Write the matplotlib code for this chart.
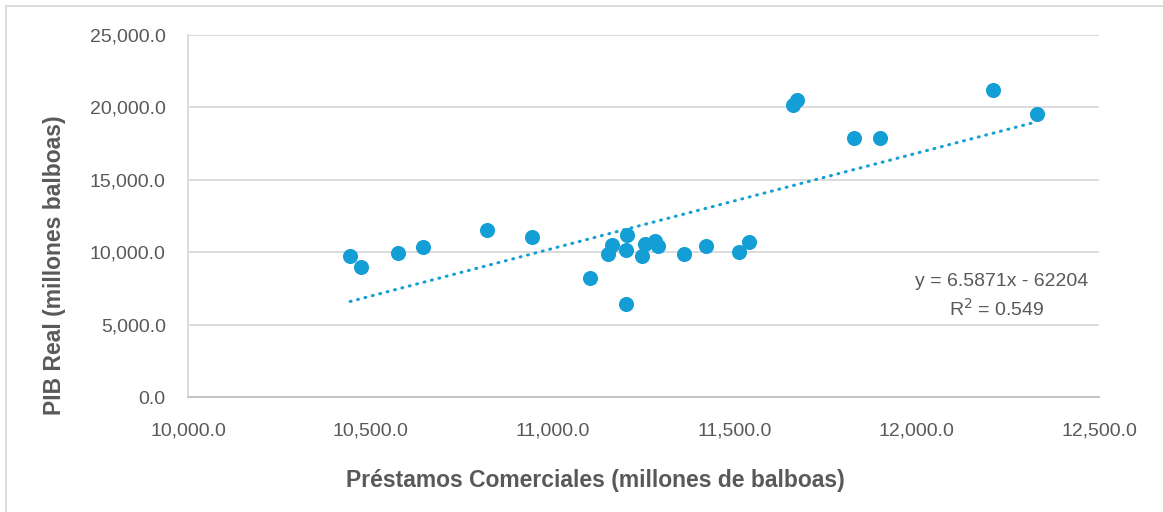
import matplotlib.pyplot as plt
import matplotlib.patches as mpatches
from matplotlib.ticker import FuncFormatter
import numpy as np

# Préstamos comerciales vs PIB real (millones de balboas)
prestamos = [10445, 10475, 10576, 10645, 10821, 10944, 11103, 11163, 11153,
             11206, 11203, 11201, 11245, 11254, 11282, 11289, 11361, 11422,
             11512, 11540, 11661, 11670, 11828, 11899, 12208, 12330]
pib = [9758, 9000, 9945, 10338, 11554, 11071, 8198, 10477, 9855,
       11188, 10173, 6423, 9738, 10566, 10773, 10428, 9897, 10428,
       9993, 10704, 20166, 20511, 17907, 17907, 21181, 19544]

# linear trend reported by the chart
slope = 6.5871
intercept = -62204
r2 = 0.549

BLUE = "#139fd5"
GRAY = "#595959"
GRID = "#d9d9d9"
W, H = 1163, 512

plt.rcParams["font.family"] = ["Liberation Sans", "DejaVu Sans"]

fig = plt.figure(figsize=(W / 100, H / 100), dpi=100)
ax = fig.add_axes([188 / W, 1 - 397 / H, (1099 - 188) / W, (397 - 35) / H])

# outer chart border (cropped on right/bottom)
fig.patches.append(mpatches.Rectangle((6 / W, -0.1), 1.2, 1 - 6 / H + 0.1,
                                      transform=fig.transFigure, fill=False,
                                      edgecolor=GRID, linewidth=1.3))

ax.scatter(prestamos, pib, s=118, color=BLUE, zorder=3, linewidths=0)

xs = np.array([min(prestamos), max(prestamos)])
ax.plot(xs, slope * xs + intercept, color=BLUE, linewidth=2.2,
        linestyle=(0, (0.3, 2.2)), dash_capstyle="round", zorder=2)

ax.set_xlim(10000, 12500)
ax.set_ylim(0, 25000)
ax.set_xticks(np.arange(10000, 12501, 500))
ax.set_yticks(np.arange(0, 25001, 5000))
fmt = FuncFormatter(lambda v, p: f"{v:,.1f}")
ax.xaxis.set_major_formatter(fmt)
ax.yaxis.set_major_formatter(fmt)

ax.grid(axis="y", color=GRID, linewidth=1.3)
ax.set_axisbelow(True)
for s in ["top", "right"]:
    ax.spines[s].set_visible(False)
ax.spines["left"].set_color(GRID)
ax.spines["bottom"].set_color("#bfbfbf")
ax.spines["left"].set_linewidth(1.3)
ax.spines["bottom"].set_linewidth(1.3)
ax.tick_params(length=0, labelsize=14, labelcolor=GRAY)
ax.tick_params(axis="x", pad=18)
ax.tick_params(axis="y", pad=16)

fig.text(595 / W, 1 - 481 / H, "Préstamos Comerciales (millones de balboas)",
         fontsize=16.5, fontweight="bold", color=GRAY, ha="center", va="center")
fig.text(55 / W, 1 - 265 / H, "PIB Real (millones balboas)", rotation=90,
         fontsize=16.5, fontweight="bold", color=GRAY, ha="center", va="center")

fig.text(1088 / W, 1 - 281 / H, f"y = {slope}x - {abs(intercept)}",
         fontsize=14, color=GRAY, ha="right", va="center")
fig.text(997 / W, 1 - 309 / H, f"R$^2$ = {r2}",
         fontsize=14, color=GRAY, ha="center", va="center")

fig.savefig("out.png", dpi=100, facecolor="white")
